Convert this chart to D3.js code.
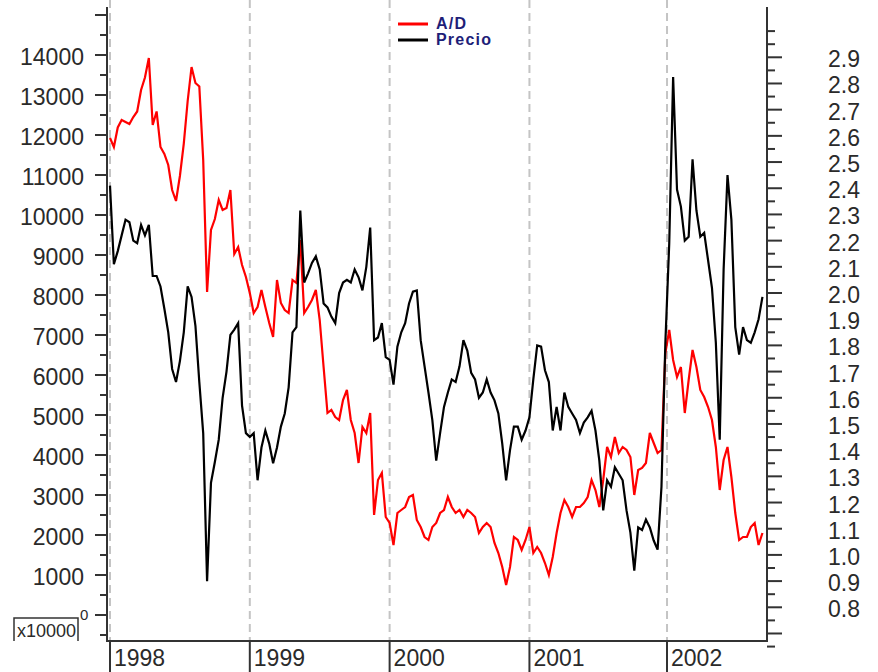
<!DOCTYPE html>
<html>
<head>
<meta charset="utf-8">
<script src="https://cdn.jsdelivr.net/npm/d3@7/dist/d3.min.js"></script>
<style>
  html, body { margin: 0; padding: 0; background: #fff; }
  svg { display: block; }
  text { font-family: "Liberation Sans", Arial, Helvetica, sans-serif; }
</style>
</head>
<body>
<svg id="chart" width="878" height="672"></svg>
<script>
// Sampling: one value every 7 trading sessions, starting with the first session of 1998.
const sessionsPerSample = 7;

// Session index at which each calendar year starts.
const yearStarts = [0, 252, 504, 756, 1004];
const yearLabels = ["1998", "1999", "2000", "2001", "2002"];

// Accumulation/Distribution line (left axis).
const adValues = [
  11925, 11700, 12188, 12375, 12325, 12275, 12450, 12588, 13125, 13438,
  13925, 12250, 12588, 11700, 11525, 11250, 10625, 10350, 10975, 11785,
  12850, 13700, 13300, 13213, 11375, 8075, 9625, 9900, 10375, 10125,
  10175, 10625, 9025, 9200, 8750, 8450, 8050, 7550, 7700, 8125,
  7700, 7300, 6950, 8375, 7800, 7625, 7550, 8375, 8300, 9375,
  7550, 7700, 7875, 8125, 7375, 6200, 5050, 5125, 4950, 4875,
  5375, 5625, 4875, 4550, 3800, 4700, 4550, 5050, 2500, 3375,
  3550, 2450, 2300, 1750, 2550, 2625, 2700, 2950, 3000, 2375,
  2200, 1950, 1875, 2200, 2300, 2550, 2625, 2950, 2700, 2550,
  2625, 2450, 2625, 2550, 2450, 2050, 2200, 2300, 2200, 1800,
  1550, 1200, 750, 1200, 1950, 1875, 1625, 1875, 2200, 1550,
  1700, 1550, 1300, 1000, 1450, 2050, 2550, 2875, 2700, 2450,
  2700, 2700, 2800, 2950, 3375, 3125, 2700, 3375, 4200, 3950,
  4450, 4050, 4200, 4125, 3950, 3000, 3625, 3675, 3800, 4550,
  4300, 4050, 4125, 6550, 7125, 6375, 5950, 6200, 5050, 5875,
  6625, 6200, 5625, 5450, 5200, 4875, 4200, 3125, 3875, 4200,
  3450, 2550, 1875, 1950, 1950, 2200, 2300, 1750, 2050
];

// Closing price (right axis).
const priceValues = [
  2.41, 2.11, 2.16, 2.22, 2.28, 2.27, 2.20, 2.19, 2.26, 2.22,
  2.26, 2.065, 2.065, 2.025, 1.94, 1.85, 1.71, 1.66, 1.74, 1.85,
  2.025, 1.985, 1.875, 1.66, 1.465, 0.90, 1.275, 1.355, 1.44, 1.60,
  1.70, 1.84, 1.86, 1.885, 1.57, 1.465, 1.45, 1.465, 1.285, 1.41,
  1.475, 1.425, 1.35, 1.41, 1.49, 1.54, 1.64, 1.85, 1.87, 2.315,
  2.04, 2.075, 2.115, 2.14, 2.09, 1.96, 1.945, 1.91, 1.885, 2.00,
  2.04, 2.05, 2.04, 2.09, 2.06, 2.01, 2.10, 2.25, 1.82, 1.83,
  1.885, 1.755, 1.745, 1.65, 1.795, 1.85, 1.885, 1.96, 2.005, 2.01,
  1.82, 1.72, 1.62, 1.515, 1.36, 1.465, 1.565, 1.62, 1.67, 1.66,
  1.72, 1.82, 1.78, 1.695, 1.67, 1.60, 1.62, 1.67, 1.62, 1.59,
  1.54, 1.425, 1.285, 1.40, 1.49, 1.49, 1.44, 1.475, 1.525, 1.67,
  1.80, 1.795, 1.705, 1.66, 1.475, 1.565, 1.475, 1.62, 1.565, 1.54,
  1.515, 1.465, 1.505, 1.525, 1.55, 1.475, 1.36, 1.17, 1.285, 1.26,
  1.335, 1.31, 1.285, 1.17, 1.085, 0.94, 1.105, 1.095, 1.135, 1.105,
  1.055, 1.02, 1.26, 1.81, 2.19, 2.825, 2.395, 2.33, 2.20, 2.215,
  2.51, 2.315, 2.215, 2.23, 2.125, 2.02, 1.81, 1.44, 2.09, 2.45,
  2.28, 1.87, 1.765, 1.87, 1.82, 1.81, 1.85, 1.90, 1.985
];

// Axis ticks.
const leftMajorTicks = d3.range(0, 15001, 1000);
const leftLabelTicks = d3.range(1000, 14001, 1000);
const leftMinorTicks = d3.range(-500, 14501, 1000);
const rightMajorTicks = d3.range(7, 30, 1).map(v => v / 10);
const rightLabelTicks = d3.range(8, 30, 1).map(v => v / 10);
const rightMinorTicks = d3.range(7, 31, 1).map(v => v / 10 - 0.05).concat([3.0]);

const series = [
  { name: "A/D", color: "#ff0000", values: adValues, axis: "left" },
  { name: "Precio", color: "#000000", values: priceValues, axis: "right" }
];

const svg = d3.select("#chart");
const W = 878, H = 672;
const plot = { left: 107, right: 767, top: 7, bottom: 641 };
const axisColor = "#333333";
const labelColor = "#2a2a2a";

svg.append("rect").attr("width", W).attr("height", H).attr("fill", "#fff");

const x = d3.scaleLinear()
  .domain([-5.4, 1184.2])
  .range([plot.left, plot.right]);

const yLeft = d3.scaleLinear()
  .domain([-650, 15200])
  .range([plot.bottom, plot.top]);

const yRight = d3.scaleLinear()
  .domain([0.6713, 3.092])
  .range([plot.bottom, plot.top]);

// Year grid lines.
svg.append("g")
  .selectAll("line")
  .data(yearStarts)
  .join("line")
  .attr("x1", d => x(d)).attr("x2", d => x(d))
  .attr("y1", 0).attr("y2", plot.bottom)
  .attr("stroke", "#c4c4c4")
  .attr("stroke-width", 2)
  .attr("stroke-dasharray", "8,5");

// Data lines.
series.forEach(s => {
  const yScale = s.axis === "left" ? yLeft : yRight;
  const line = d3.line()
    .x((d, i) => x(i * sessionsPerSample))
    .y(d => yScale(d));
  svg.append("path")
    .datum(s.values)
    .attr("d", line)
    .attr("fill", "none")
    .attr("stroke", s.color)
    .attr("stroke-width", 2.2)
    .attr("stroke-linejoin", "miter");
});

// Left axis.
const gl = svg.append("g");
gl.append("line")
  .attr("x1", plot.left).attr("x2", plot.left)
  .attr("y1", plot.top).attr("y2", plot.bottom)
  .attr("stroke", axisColor).attr("stroke-width", 2);
gl.selectAll("line.maj").data(leftMajorTicks).join("line").attr("class", "maj")
  .attr("x1", plot.left - 12).attr("x2", plot.left)
  .attr("y1", d => yLeft(d)).attr("y2", d => yLeft(d))
  .attr("stroke", axisColor).attr("stroke-width", 2);
gl.selectAll("line.min").data(leftMinorTicks).join("line").attr("class", "min")
  .attr("x1", plot.left - 7).attr("x2", plot.left)
  .attr("y1", d => yLeft(d)).attr("y2", d => yLeft(d))
  .attr("stroke", axisColor).attr("stroke-width", 2);
gl.selectAll("text").data(leftLabelTicks).join("text")
  .attr("x", 84)
  .attr("y", d => yLeft(d) + 2)
  .attr("text-anchor", "end")
  .attr("dominant-baseline", "central")
  .attr("font-size", 23)
  .attr("fill", labelColor)
  .text(d => d);

// Right axis.
const gr = svg.append("g");
gr.append("line")
  .attr("x1", plot.right).attr("x2", plot.right)
  .attr("y1", plot.top).attr("y2", plot.bottom)
  .attr("stroke", axisColor).attr("stroke-width", 2);
gr.selectAll("line.maj").data(rightMajorTicks).join("line").attr("class", "maj")
  .attr("x1", plot.right).attr("x2", plot.right + 15)
  .attr("y1", d => yRight(d)).attr("y2", d => yRight(d))
  .attr("stroke", axisColor).attr("stroke-width", 2);
gr.selectAll("line.min").data(rightMinorTicks).join("line").attr("class", "min")
  .attr("x1", plot.right).attr("x2", plot.right + 8)
  .attr("y1", d => yRight(d)).attr("y2", d => yRight(d))
  .attr("stroke", axisColor).attr("stroke-width", 2);
gr.selectAll("text").data(rightLabelTicks).join("text")
  .attr("x", 828)
  .attr("y", d => yRight(d) + 2)
  .attr("dominant-baseline", "central")
  .attr("font-size", 23)
  .attr("fill", labelColor)
  .text(d => d3.format(".1f")(d));

// Bottom axis with year markers.
const gb = svg.append("g");
gb.append("line")
  .attr("x1", plot.left - 1).attr("x2", plot.right + 1)
  .attr("y1", plot.bottom).attr("y2", plot.bottom)
  .attr("stroke", axisColor).attr("stroke-width", 2);
gb.selectAll("line.yr").data(yearStarts).join("line").attr("class", "yr")
  .attr("x1", d => x(d)).attr("x2", d => x(d))
  .attr("y1", plot.bottom).attr("y2", H)
  .attr("stroke", axisColor).attr("stroke-width", 2);
gb.selectAll("text").data(yearStarts).join("text")
  .attr("x", d => x(d) + 4)
  .attr("y", 666)
  .attr("font-size", 23)
  .attr("fill", labelColor)
  .text((d, i) => yearLabels[i]);

// Multiplier box in the lower-left corner.
const mb = svg.append("g");
mb.append("rect")
  .attr("x", 14).attr("y", 618).attr("width", 64).attr("height", 24)
  .attr("fill", "#fff");
mb.append("path")
  .attr("d", "M14,641V618H78V641")
  .attr("fill", "none")
  .attr("stroke", axisColor)
  .attr("stroke-width", 1.5);
mb.append("text")
  .attr("x", 17).attr("y", 637)
  .attr("font-size", 18)
  .attr("fill", labelColor)
  .text("x10000");

// Zero label of the left axis, tucked beside the multiplier box.
svg.append("text")
  .attr("x", 80)
  .attr("y", yLeft(0) - 1)
  .attr("font-size", 15)
  .attr("dominant-baseline", "central")
  .attr("fill", labelColor)
  .text("0");

// Legend.
const legend = svg.append("g");
series.forEach((s, i) => {
  const ly = 23 + i * 16;
  legend.append("line")
    .attr("x1", 398).attr("x2", 428)
    .attr("y1", ly + 1).attr("y2", ly + 1)
    .attr("stroke", s.color).attr("stroke-width", 3);
  legend.append("text")
    .attr("x", 436).attr("y", ly)
    .attr("dominant-baseline", "central")
    .attr("font-size", 16)
    .attr("font-weight", "bold")
    .attr("letter-spacing", 1.2)
    .attr("fill", "#1e1e78")
    .text(s.name);
});
</script>
</body>
</html>
